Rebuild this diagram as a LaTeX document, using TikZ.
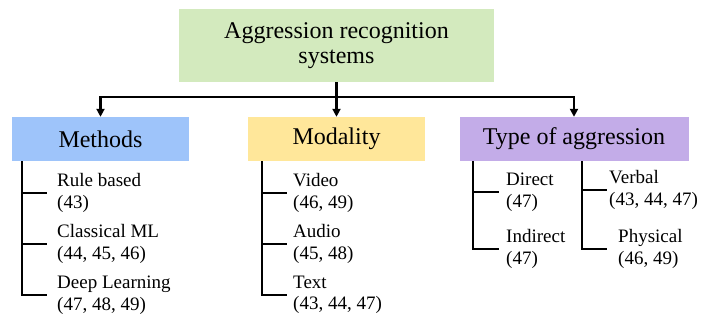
\documentclass[tikz,border=0pt]{standalone}
\usepackage{fontspec}
\setmainfont{Liberation Serif}
\usetikzlibrary{arrows.meta}

\definecolor{rootgreen}{HTML}{D3EABE}
\definecolor{methblue}{HTML}{9EC4FA}
\definecolor{modyellow}{HTML}{FFE79A}
\definecolor{typepurple}{HTML}{C3ACE8}

\tikzset{
  headbox/.style={draw=none, inner sep=0pt, minimum height=44pt, align=center,
    font=\fontsize{24}{25}\selectfont},
  rootbox/.style={headbox, minimum width=315pt, minimum height=73pt},
  item/.style={inner ysep=0pt, align=left, anchor=west,
    font=\fontsize{19}{21.5}\selectfont},
  treeline/.style={draw=black, line width=2.8pt},
  downarrow/.style={treeline, -{Triangle[length=8pt,width=8pt]}}
}

\begin{document}
\begin{tikzpicture}[x=1pt, y=-1pt]
  \useasboundingbox (0,0) rectangle (702,322);

  % root and category boxes
  \node[rootbox, fill=rootgreen] (root) at (336.5,45.5)
    {Aggression recognition\\systems};
  \node[headbox, fill=methblue, minimum width=177pt] (methods) at (100.5,139) {Methods};
  \node[headbox, fill=modyellow, minimum width=177pt] (modality) at (336.5,139) {Modality};
  \node[headbox, fill=typepurple, minimum width=229pt] (type) at (574,139) {Type of aggression};

  % distribution bus below the root
  \coordinate (bus) at (336.5,97);
  \draw[treeline] (root.south) -- (bus);
  \draw[treeline] ([xshift=-1.4pt]bus -| methods.north) -- ([xshift=1.4pt]bus -| type.north);
  \draw[downarrow] (bus -| methods.north) -- (methods.north);
  \draw[downarrow] (bus -| modality.north) -- (modality.north);
  \draw[downarrow] (bus -| type.north) -- (type.north);

  % Methods list
  \coordinate (mtrunk) at (22,161);
  \node[item, inner xsep=10pt] (rule)  at (47,193) {Rule based\\(43)};
  \node[item, inner xsep=10pt] (classic) at (47,244) {Classical ML\\(44, 45, 46)};
  \node[item, inner xsep=10pt] (deep)  at (47,295) {Deep Learning\\(47, 48, 49)};
  \draw[treeline] (mtrunk) |- (deep.west);
  \draw[treeline] (mtrunk |- rule.west) -- (rule.west);
  \draw[treeline] (mtrunk |- classic.west) -- (classic.west);

  % Modality list
  \coordinate (dtrunk) at (262,161);
  \node[item, inner xsep=6pt] (video) at (287,193) {Video\\(46, 49)};
  \node[item, inner xsep=6pt] (audio) at (287,244) {Audio\\(45, 48)};
  \node[item, inner xsep=6pt] (text)  at (287,295) {Text\\(43, 44, 47)};
  \draw[treeline] (dtrunk) |- (text.west);
  \draw[treeline] (dtrunk |- video.west) -- (video.west);
  \draw[treeline] (dtrunk |- audio.west) -- (audio.west);

  % Type of aggression lists
  \coordinate (ltrunk) at (473,161);
  \node[item, inner xsep=7pt] (direct)   at (499,192) {Direct\\(47)};
  \node[item, inner xsep=7pt] (indirect) at (499,249) {Indirect\\(47)};
  \draw[treeline] (ltrunk) |- (indirect.west);
  \draw[treeline] (ltrunk |- direct.west) -- (direct.west);

  \coordinate (rtrunk) at (582,161);
  \node[item, inner xsep=2pt]  (verbal)   at (607,190) {Verbal\\(43, 44, 47)};
  \node[item, inner xsep=11pt] (physical) at (607,249) {Physical\\(46, 49)};
  \draw[treeline] (rtrunk) |- (physical.west);
  \draw[treeline] (rtrunk |- verbal.west) -- (verbal.west);
\end{tikzpicture}
\end{document}
